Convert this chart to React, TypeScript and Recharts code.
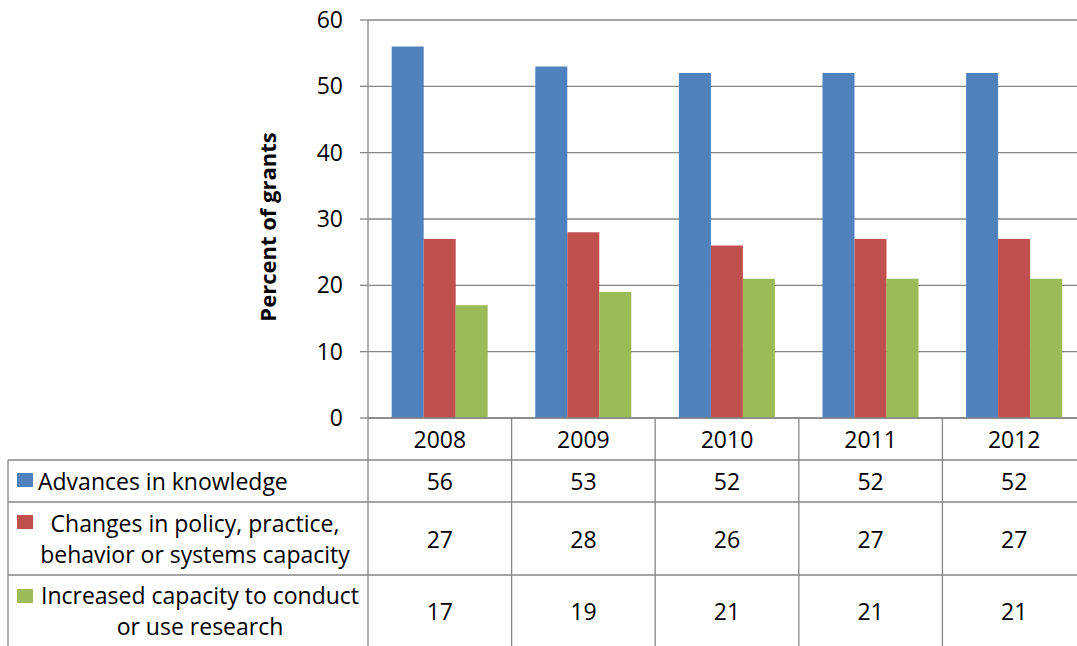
import { BarChart, Bar, XAxis, YAxis, CartesianGrid } from "recharts";

// grant outcomes by year, percent of grants
const years = ["2008", "2009", "2010", "2011", "2012"];
const advances = [56, 53, 52, 52, 52];
const changes = [27, 28, 26, 27, 27];
const capacity = [17, 19, 21, 21, 21];
const yTicks = [0, 10, 20, 30, 40, 50, 60];

const series = [
  { key: "advances", color: "#4F81BD", values: advances, lines: ["Advances in knowledge"] },
  { key: "changes", color: "#C0504D", values: changes, lines: ["Changes in policy, practice,", "behavior or systems capacity"] },
  { key: "capacity", color: "#9BBB59", values: capacity, lines: ["Increased capacity to conduct", "or use research"] },
];

const data = years.map((year, i) => ({
  year,
  advances: advances[i],
  changes: changes[i],
  capacity: capacity[i],
}));

const FONT = "'Open Sans', sans-serif";
const FS = 23;
const GRID = "#868686";
const W = 1092;
const H = 646;
const PLOT_LEFT = 368;
const PLOT_RIGHT = 1086;
const PLOT_TOP = 20;
const AXIS_Y = 418;
const BAND = (PLOT_RIGHT - PLOT_LEFT) / years.length;

// table row layout (top, bottom) below the axis
const headerRow = [AXIS_Y, 460];
const rows = [
  [460, 502],
  [502, 575],
  [575, 646],
];
const swatchY = [473, 515, 589];

function LegendColumn() {
  return (
    <g>
      <line x1={8} y1={rows[0][0]} x2={8} y2={H} stroke={GRID} strokeWidth={1.3} />
      {rows.map((r, i) => (
        <line key={"h" + i} x1={8} y1={r[0]} x2={PLOT_LEFT} y2={r[0]} stroke={GRID} strokeWidth={1.3} />
      ))}
      {series.map((s, i) => {
        const [top, bottom] = rows[i];
        const mid = (top + bottom) / 2;
        return (
          <g key={s.key}>
            <rect x={17} y={swatchY[i]} width={16} height={14} fill={s.color} />
            {s.lines.length === 1 ? (
              <text x={38} y={mid} dominantBaseline="central" fontSize={FS} fontFamily={FONT} fill="#000">
                {s.lines[0]}
              </text>
            ) : (
              s.lines.map((t, j) => (
                <text
                  key={j}
                  x={i === 1 ? 195 : 200}
                  y={mid + (j === 0 ? -15.5 : 15.5)}
                  textAnchor="middle"
                  dominantBaseline="central"
                  fontSize={FS}
                  fontFamily={FONT}
                  fill="#000"
                >
                  {t}
                </text>
              ))
            )}
          </g>
        );
      })}
    </g>
  );
}

function TableTick(props: any) {
  const { x, payload, index } = props;
  const left = x - BAND / 2;
  const right = x + BAND / 2;
  const i = years.indexOf(payload.value);
  return (
    <g>
      {index === 0 && <LegendColumn />}
      <line x1={left} y1={AXIS_Y} x2={left} y2={H} stroke={GRID} strokeWidth={1.3} />
      {rows.map((r, k) => (
        <line key={k} x1={left} y1={r[0]} x2={right} y2={r[0]} stroke={GRID} strokeWidth={1.3} />
      ))}
      <text
        x={x}
        y={(headerRow[0] + headerRow[1]) / 2}
        textAnchor="middle"
        dominantBaseline="central"
        fontSize={FS}
        fontFamily={FONT}
        fill="#000"
      >
        {payload.value}
      </text>
      {series.map((s, k) => (
        <text
          key={s.key}
          x={x}
          y={(rows[k][0] + rows[k][1]) / 2}
          textAnchor="middle"
          dominantBaseline="central"
          fontSize={FS}
          fontFamily={FONT}
          fill="#000"
        >
          {s.values[i]}
        </text>
      ))}
    </g>
  );
}

export default function App() {
  return (
    <div
      style={{
        position: "fixed",
        left: 0,
        top: 0,
        width: 1077,
        height: 646,
        overflow: "hidden",
        background: "#fff",
      }}
    >
      <BarChart
        width={W}
        height={H}
        data={data}
        margin={{ top: PLOT_TOP, right: W - PLOT_RIGHT, bottom: 0, left: 0 }}
        barCategoryGap="16.5%"
        barGap={0}
      >
        <CartesianGrid vertical={false} stroke={GRID} strokeWidth={1.3} />
        <XAxis
          dataKey="year"
          height={H - AXIS_Y}
          tickLine={false}
          tickSize={0}
          tickMargin={0}
          axisLine={{ stroke: GRID, strokeWidth: 1.3 }}
          tick={<TableTick />}
          interval={0}
        />
        <YAxis
          width={PLOT_LEFT}
          domain={[0, 60]}
          ticks={yTicks}
          interval={0}
          tickSize={8}
          tickMargin={17}
          tickLine={{ stroke: GRID, strokeWidth: 1.3 }}
          axisLine={{ stroke: GRID, strokeWidth: 1.3 }}
          tick={{ fontSize: FS, fontFamily: FONT, fill: "#000" }}
          label={{
            content: () => (
              <text
                x={267}
                y={227}
                transform="rotate(-90 267 227)"
                textAnchor="middle"
                dominantBaseline="central"
                fontSize={22}
                fontWeight="bold"
                fontFamily={FONT}
                fill="#000"
              >
                Percent of grants
              </text>
            ),
          }}
        />
        {series.map((s) => (
          <Bar key={s.key} dataKey={s.key} fill={s.color} isAnimationActive={false} />
        ))}
      </BarChart>
    </div>
  );
}
